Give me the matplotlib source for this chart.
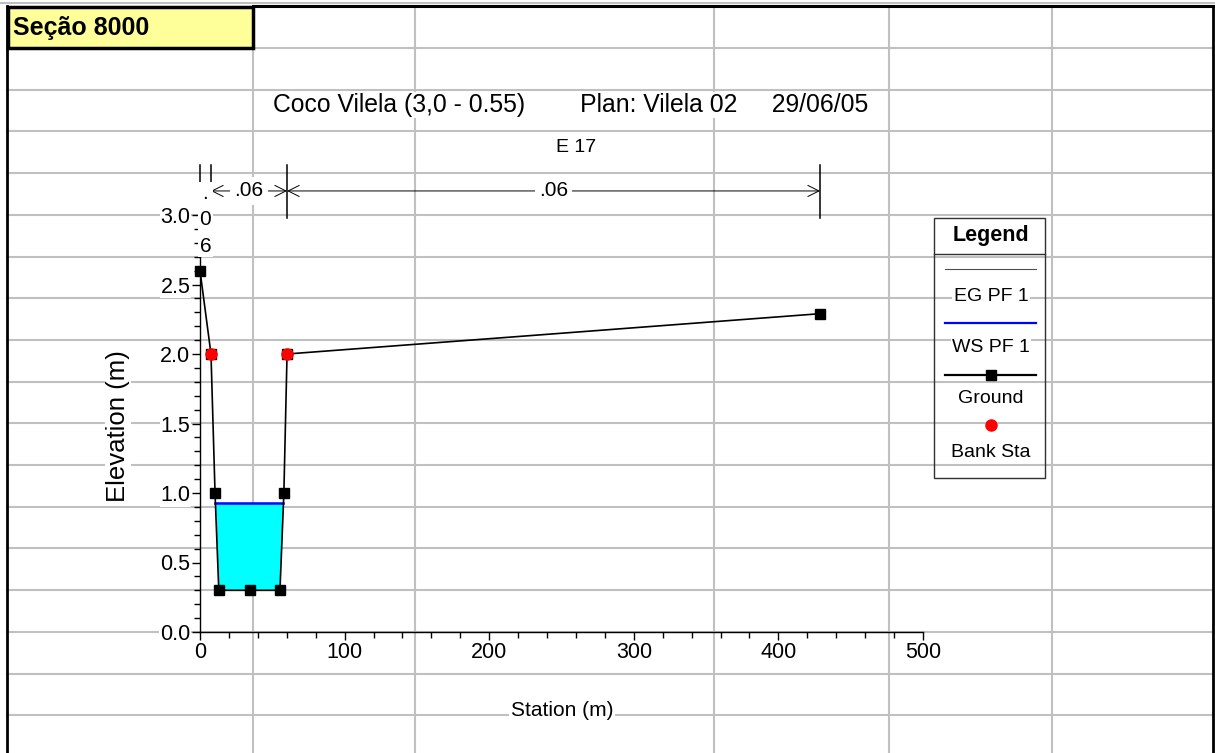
import matplotlib
matplotlib.use("Agg")
import matplotlib.pyplot as plt
from matplotlib.patches import Rectangle
from matplotlib.lines import Line2D
from matplotlib.ticker import MultipleLocator, FormatStrFormatter

# dados da seção 8000 (HEC-RAS)
station = [0, 7.6, 10.4, 13.0, 34.6, 55.3, 58.0, 60.2, 428.8]
elevation = [2.60, 2.00, 1.00, 0.30, 0.30, 0.30, 1.00, 2.00, 2.29]
bank_sta = [7.6, 60.2]
bank_elev = [2.00, 2.00]
ws_pf1 = 0.93
n_breaks = [0, 7.6, 60.2, 428.8]
n_values = [".06", ".06", ".06"]

xticks = [0, 100, 200, 300, 400, 500]
yticks = [0.0, 0.5, 1.0, 1.5, 2.0, 2.5, 3.0]

FONT = "Liberation Sans"
plt.rcParams["font.family"] = FONT

W, H = 1215, 753
fig = plt.figure(figsize=(W / 100, H / 100), dpi=100)
white = dict(facecolor="white", edgecolor="none", pad=1)

# planilha de fundo (grade do Excel)
bg = fig.add_axes([0, 0, 1, 1], zorder=0)
bg.set_xlim(0, W)
bg.set_ylim(H, 0)
bg.axis("off")
for x in [253, 415, 714, 889, 1052]:
    bg.plot([x, x], [6, H], color="#c0c0c0", lw=1.5)
for i in range(17):
    y = 48 + i * 41.7
    bg.plot([7, 1213], [y, y], color="#c0c0c0", lw=1.5)
bg.plot([0, W], [3, 3], color="#c0c0c0", lw=1.5)
bg.plot([253, 1213], [6, 6], color="black", lw=2.2)
bg.plot([7, 7], [6, H], color="black", lw=2)
bg.plot([1213, 1213], [6, H], color="black", lw=2)
bg.add_patch(Rectangle((8, 7), 245, 41, facecolor="#ffff99", edgecolor="black", lw=2.5, zorder=3))
bg.text(13, 28, "Seção 8000", fontsize=18, fontweight="bold", va="center", zorder=4)

# legenda
bg.add_patch(Rectangle((934, 218), 111, 260, facecolor="none", edgecolor="#303030", lw=1, zorder=3))
bg.plot([934, 1045], [254, 254], color="#303030", lw=1, zorder=3)
bg.text(991, 235, "Legend", fontsize=15.5, fontweight="bold", ha="center", va="center", zorder=4)
bg.add_line(Line2D([945, 1036], [269, 269], color="#505050", lw=0.8, zorder=4))
bg.add_line(Line2D([945, 1036], [323, 323], color="blue", lw=1.6, zorder=4))
bg.add_line(Line2D([945, 1036], [375, 375], color="black", lw=1.6, zorder=4))
bg.add_line(Line2D([991], [375], color="black", marker="s", ms=6.5, zorder=4))
bg.add_line(Line2D([991], [425], color="red", marker="o", ms=8, lw=0, zorder=4))
for y, s in [(296, "EG PF 1"), (347, "WS PF 1"), (398, "Ground"), (452, "Bank Sta")]:
    bg.text(991, y, s, fontsize=14, ha="center", va="center", bbox=white, zorder=4)

# gráfico
ax = fig.add_axes([200 / W, (H - 632) / H, 723 / W, 417 / H], zorder=2)
ax.set_facecolor("none")
ax.set_xlim(0, 500)
ax.set_ylim(0, 3.0)
for s in ["top", "right"]:
    ax.spines[s].set_visible(False)
ax.spines["left"].set_linewidth(1)
ax.spines["bottom"].set_linewidth(1)

ax.fill_between(station, elevation, ws_pf1, where=[e < ws_pf1 for e in elevation],
                interpolate=True, facecolor="cyan", edgecolor="none", zorder=1)

# limites da lâmina d'água
cross = []
for i in range(len(station) - 1):
    e0, e1 = elevation[i], elevation[i + 1]
    if (e0 - ws_pf1) * (e1 - ws_pf1) < 0:
        cross.append(station[i] + (ws_pf1 - e0) / (e1 - e0) * (station[i + 1] - station[i]))
ax.plot([cross[0], cross[-1]], [ws_pf1, ws_pf1], color="blue", lw=1.8, zorder=2)

ax.plot(station, elevation, color="black", lw=1.2, marker="s", ms=6.5, zorder=3, clip_on=False)
ax.plot(bank_sta, bank_elev, "o", color="red", ms=8, zorder=4, clip_on=False)

# Manning n
y_arr, y_top, y_bot = 3.173, 3.36, 2.978
for j, x in enumerate(n_breaks):
    ax.plot([x, x], [y_top, 3.07 if j == 0 else y_bot], color="black", lw=1.1, clip_on=False)
for j in range(len(n_values)):
    x0, x1 = n_breaks[j], n_breaks[j + 1]
    xm = (x0 + x1) / 2
    if j == 0:
        # não cabe: texto empilhado
        ax.text(xm, 2.965, ".\n0\n6", fontsize=15, ha="center", va="center",
                linespacing=1.5, bbox=white, zorder=5)
        continue
    ax.annotate("", xy=(x0, y_arr), xytext=(x1, y_arr), annotation_clip=False,
                arrowprops=dict(arrowstyle="<->", color="black", lw=0.7,
                                shrinkA=0, shrinkB=0, mutation_scale=20))
    ax.text(xm, y_arr, n_values[j], fontsize=15, ha="center", va="center",
            bbox=dict(facecolor="white", edgecolor="none", pad=3), zorder=5)

fig.text(273 / W, 1 - 105 / H,
         "Coco Vilela (3,0 - 0.55)        Plan: Vilela 02     29/06/05",
         fontsize=17.8, va="center", ha="left", bbox=white, zorder=5)
fig.text(576 / W, 1 - 147 / H, "E 17", fontsize=14, va="center", ha="center",
         bbox=white, zorder=5)

ax.set_xticks(xticks)
ax.set_yticks(yticks)
ax.xaxis.set_minor_locator(MultipleLocator(20))
ax.yaxis.set_minor_locator(MultipleLocator(0.1))
ax.yaxis.set_major_formatter(FormatStrFormatter("%.1f"))
ax.tick_params(which="major", direction="out", length=6, width=1, pad=1, labelsize=15.5)
ax.tick_params(which="minor", direction="out", length=4, width=1)
for t in ax.get_xticklabels() + ax.get_yticklabels():
    t.set_bbox(dict(facecolor="white", edgecolor="none", pad=0.5))

ax.set_xlabel("Station (m)", fontsize=15, va="center", bbox=white)
ax.xaxis.set_label_coords((562 - 200) / 723, -(710 - 632) / 417)
ax.set_ylabel("Elevation (m)", fontsize=18.5, va="center", bbox=white)
ax.yaxis.set_label_coords((118 - 200) / 723, (632 - 426) / 417)

fig.savefig("out.png", dpi=100)
